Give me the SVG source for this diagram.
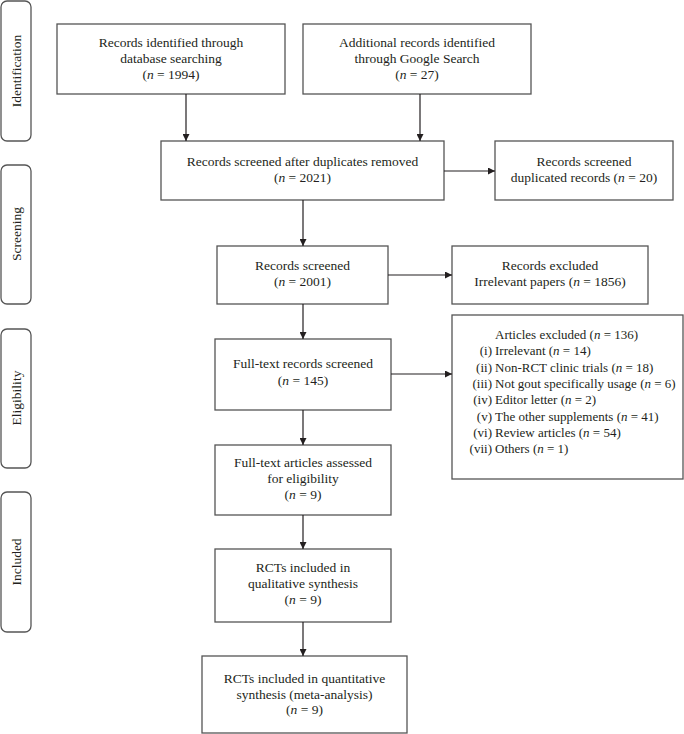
<svg xmlns="http://www.w3.org/2000/svg" width="684" height="734" viewBox="0 0 684 734" font-family="'Liberation Serif', 'Times New Roman', serif">
<defs>
<marker id="ah" viewBox="0 0 10 10" refX="10" refY="5" markerWidth="7" markerHeight="7" markerUnits="userSpaceOnUse" orient="auto">
<path d="M0,0 L10,5 L0,10 Z" fill="#231f20"/>
</marker>
<style>
.box{fill:#fff;stroke:#555;stroke-width:1.3}
.side{fill:#fff;stroke:#555;stroke-width:1.3}
text{font-family:'Liberation Serif','Times New Roman',serif;font-size:13.5px;fill:#231f20}
.s{font-size:13px}
.c{text-anchor:middle}
.e{text-anchor:end}
.i{font-style:italic}
.conn line{stroke:#231f20;stroke-width:1.2;marker-end:url(#ah)}
</style>
</defs>
<rect width="684" height="734" fill="#fff"/>

<g id="stage-identification"><rect class="side" x="1" y="1" width="30" height="140" rx="6"/><text class="c" transform="translate(21,71) rotate(-90)">Identification</text></g>
<g id="stage-screening"><rect class="side" x="1" y="165" width="30" height="139" rx="6"/><text class="c" transform="translate(21,234) rotate(-90)">Screening</text></g>
<g id="stage-eligibility"><rect class="side" x="1" y="329" width="30" height="139" rx="6"/><text class="c" transform="translate(21,398) rotate(-90)">Eligibility</text></g>
<g id="stage-included"><rect class="side" x="1" y="492" width="30" height="140" rx="6"/><text class="c" transform="translate(21,562) rotate(-90)">Included</text></g>

<g id="n-database"><rect class="box" x="57" y="24" width="228" height="70"/>
<text class="c" x="171" y="47">Records identified through</text>
<text class="c" x="171" y="63">database searching</text>
<text class="c" x="171" y="79">(<tspan class="i">n</tspan> = 1994)</text></g>

<g id="n-google"><rect class="box" x="303" y="24" width="228" height="70"/>
<text class="c" x="417" y="47">Additional records identified</text>
<text class="c" x="417" y="63">through Google Search</text>
<text class="c" x="417" y="79">(<tspan class="i">n</tspan> = 27)</text></g>

<g id="n-dedup"><rect class="box" x="161" y="141" width="283" height="59"/>
<text class="c" x="302.5" y="166">Records screened after duplicates removed</text>
<text class="c" x="302.5" y="182">(<tspan class="i">n</tspan> = 2021)</text></g>

<g id="n-duplicated"><rect class="box" x="495" y="141" width="178" height="59"/>
<text class="c" x="584" y="166">Records screened</text>
<text class="c" x="584" y="182">duplicated records (<tspan class="i">n</tspan> = 20)</text></g>

<g id="n-screened"><rect class="box" x="217" y="246" width="171" height="58"/>
<text class="c" x="302.5" y="270">Records screened</text>
<text class="c" x="302.5" y="286">(<tspan class="i">n</tspan> = 2001)</text></g>

<g id="n-excluded"><rect class="box" x="452" y="246" width="196" height="58"/>
<text class="c" x="550" y="270">Records excluded</text>
<text class="c" x="550" y="286">Irrelevant papers (<tspan class="i">n</tspan> = 1856)</text></g>

<g id="n-fulltext"><rect class="box" x="215" y="339" width="176" height="71"/>
<text class="c" x="303" y="368">Full-text records screened</text>
<text class="c" x="303" y="385">(<tspan class="i">n</tspan> = 145)</text></g>

<g id="n-articles-excluded"><rect class="box" x="452" y="315" width="231" height="164"/>
<text class="s" x="495" y="339">Articles excluded (<tspan class="i">n</tspan> = 136)</text>
<text class="s e" x="492" y="355.3">(i)</text><text class="s" x="495" y="355.3">Irrelevant (<tspan class="i">n</tspan> = 14)</text>
<text class="s e" x="492" y="371.6">(ii)</text><text class="s" x="495" y="371.6">Non-RCT clinic trials (<tspan class="i">n</tspan> = 18)</text>
<text class="s e" x="492" y="387.9">(iii)</text><text class="s" x="495" y="387.9">Not gout specifically usage (<tspan class="i">n</tspan> = 6)</text>
<text class="s e" x="492" y="404.2">(iv)</text><text class="s" x="495" y="404.2">Editor letter (<tspan class="i">n</tspan> = 2)</text>
<text class="s e" x="492" y="420.5">(v)</text><text class="s" x="495" y="420.5">The other supplements (<tspan class="i">n</tspan> = 41)</text>
<text class="s e" x="492" y="436.8">(vi)</text><text class="s" x="495" y="436.8">Review articles (<tspan class="i">n</tspan> = 54)</text>
<text class="s e" x="492" y="453.1">(vii)</text><text class="s" x="495" y="453.1">Others (<tspan class="i">n</tspan> = 1)</text></g>

<g id="n-assessed"><rect class="box" x="215" y="445" width="176" height="70"/>
<text class="c" x="303" y="467">Full-text articles assessed</text>
<text class="c" x="303" y="483">for eligibility</text>
<text class="c" x="303" y="499">(<tspan class="i">n</tspan> = 9)</text></g>

<g id="n-qualitative"><rect class="box" x="215" y="549" width="176" height="73"/>
<text class="c" x="303" y="572">RCTs included in</text>
<text class="c" x="303" y="588">qualitative synthesis</text>
<text class="c" x="303" y="604">(<tspan class="i">n</tspan> = 9)</text></g>

<g id="n-quantitative"><rect class="box" x="202" y="656" width="205" height="77"/>
<text class="c" x="304.5" y="683">RCTs included in quantitative</text>
<text class="c" x="304.5" y="699">synthesis (meta-analysis)</text>
<text class="c" x="304.5" y="714">(<tspan class="i">n</tspan> = 9)</text></g>

<g id="connectors" class="conn">
<line x1="186" y1="94" x2="186" y2="141"/>
<line x1="420" y1="94" x2="420" y2="141"/>
<line x1="444" y1="171" x2="495" y2="171"/>
<line x1="303" y1="200" x2="303" y2="246"/>
<line x1="388" y1="275" x2="452" y2="275"/>
<line x1="303" y1="304" x2="303" y2="339"/>
<line x1="391" y1="374" x2="452" y2="374"/>
<line x1="303" y1="410" x2="303" y2="445"/>
<line x1="303" y1="515" x2="303" y2="549"/>
<line x1="303" y1="622" x2="303" y2="656"/>
</g>
</svg>
